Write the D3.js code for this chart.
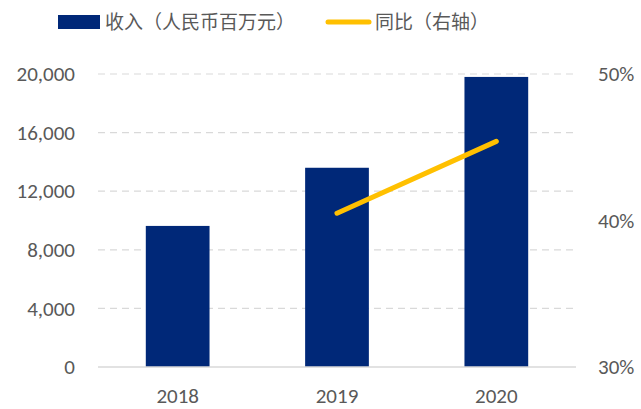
<!DOCTYPE html>
<html>
<head>
<meta charset="utf-8">
<script src="https://cdn.jsdelivr.net/npm/d3@7"></script>
<style>
  body { margin: 0; background: #fff; }
  text { fill: #595959; }
</style>
</head>
<body>
<svg width="641" height="409"></svg>
<script>
var years = ["2018", "2019", "2020"];
var revenue = [9630, 13600, 19800];
var growthYears = ["2019", "2020"];
var growth = [0.405, 0.454];
var leftTicks = [0, 4000, 8000, 12000, 16000, 20000];
var rightTicks = [0.3, 0.4, 0.5];
var legendNames = ["收入（人民币百万元）", "同比（右轴）"];

var svg = d3.select("svg"),
  plotLeft = 98, plotRight = 576, plotTop = 74, plotBottom = 367;

var x = d3.scaleBand().domain(years).range([plotLeft, plotRight]).paddingInner(0.6).paddingOuter(0.3);
var y = d3.scaleLinear().domain([0, 20000]).range([plotBottom, plotTop]);
var y2 = d3.scaleLinear().domain([0.3, 0.5]).range([plotBottom, plotTop]);

var numFont = "Calibri, Carlito, Lato, sans-serif";

// gridlines
svg.append("g")
  .selectAll("line")
  .data(leftTicks.filter(function(d) { return d > 0; }))
  .enter().append("line")
  .attr("x1", plotLeft).attr("x2", plotRight)
  .attr("y1", function(d) { return y(d); })
  .attr("y2", function(d) { return y(d); })
  .attr("stroke", "#d9d9d9")
  .attr("stroke-width", 1.2)
  .attr("stroke-dasharray", "7,5");

// bars
svg.append("g")
  .selectAll("rect")
  .data(revenue)
  .enter().append("rect")
  .attr("x", function(d, i) { return x(years[i]); })
  .attr("width", x.bandwidth())
  .attr("y", function(d) { return y(d); })
  .attr("height", function(d) { return y(0) - y(d); })
  .attr("fill", "#002878");

// baseline
svg.append("line")
  .attr("x1", plotLeft).attr("x2", plotRight)
  .attr("y1", plotBottom).attr("y2", plotBottom)
  .attr("stroke", "#d9d9d9").attr("stroke-width", 1.5);

// growth line
var line = d3.line()
  .x(function(d, i) { return x(growthYears[i]) + x.bandwidth() / 2; })
  .y(function(d) { return y2(d); });

svg.append("path")
  .datum(growth)
  .attr("d", line)
  .attr("fill", "none")
  .attr("stroke", "#FFC000")
  .attr("stroke-width", 5)
  .attr("stroke-linecap", "round");

// left axis
var leftAxis = svg.append("g")
  .attr("transform", "translate(" + plotLeft + ",0)")
  .call(d3.axisLeft(y).tickValues(leftTicks).tickSize(0).tickPadding(23).tickFormat(d3.format(",")));
leftAxis.select(".domain").remove();
leftAxis.selectAll("text").style("font-family", numFont).style("font-size", "21px").attr("fill", "#595959");

// right axis
var rightAxis = svg.append("g")
  .attr("transform", "translate(" + plotRight + ",0)")
  .call(d3.axisRight(y2).tickValues(rightTicks).tickSize(0).tickPadding(22).tickFormat(d3.format(".0%")));
rightAxis.select(".domain").remove();
rightAxis.selectAll("text").style("font-family", numFont).style("font-size", "21px").attr("fill", "#595959");

// x axis
var xAxis = svg.append("g")
  .attr("transform", "translate(0," + plotBottom + ")")
  .call(d3.axisBottom(x).tickSize(0).tickPadding(21));
xAxis.select(".domain").remove();
xAxis.selectAll("text").style("font-family", numFont).style("font-size", "21px").attr("fill", "#595959");

// legend
var cjkFont = "'Noto Sans CJK SC', sans-serif";
svg.append("rect")
  .attr("x", 58).attr("y", 15).attr("width", 42).attr("height", 14)
  .attr("fill", "#002878");
svg.append("text")
  .attr("x", 105).attr("y", 29)
  .style("font-family", cjkFont).style("font-size", "19px")
  .text(legendNames[0]);
svg.append("line")
  .attr("x1", 328).attr("x2", 369).attr("y1", 22).attr("y2", 22)
  .attr("stroke", "#FFC000").attr("stroke-width", 5).attr("stroke-linecap", "round");
svg.append("text")
  .attr("x", 375).attr("y", 29)
  .style("font-family", cjkFont).style("font-size", "19px")
  .text(legendNames[1]);
</script>
</body>
</html>
